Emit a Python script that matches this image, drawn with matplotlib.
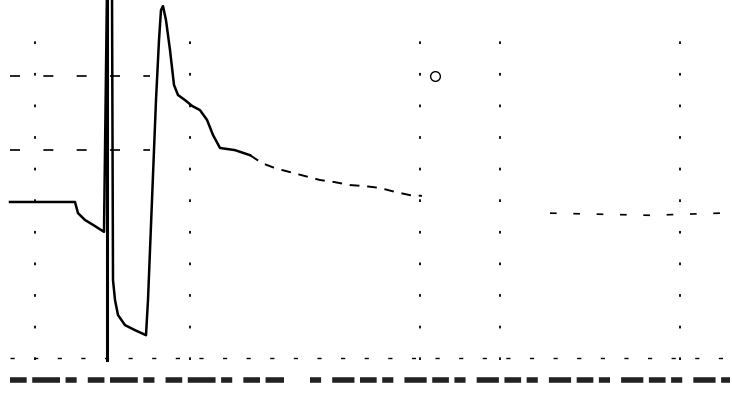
import matplotlib
matplotlib.use("Agg")
import matplotlib.pyplot as plt

# trace: time (arbitrary units) and detector signal (%)
time = [0.5, 3.75, 3.9, 4.25, 4.75, 5.2, 5.35, 5.6, 5.65, 5.75, 5.9, 6.25, 6.75,
        7.3, 7.4, 7.6, 7.8, 7.95, 8.05, 8.15, 8.3, 8.5, 8.7, 8.9, 9.25, 9.6, 10.0,
        10.35, 10.65, 11.0, 11.75, 12.5]
signal = [43.9, 43.9, 40.8, 38.9, 37.2, 35.6, 102.8, 102.8, 22.2, 16.7, 12.5, 9.7, 8.3,
          6.9, 16.7, 44.4, 72.2, 88.9, 97.2, 98.3, 94.4, 86.1, 76.4, 73.6, 72.2, 70.6, 69.4,
          66.7, 62.5, 58.9, 58.3, 56.9]

# broken (faint) tail of the trace
tail_time = [12.5, 13.1, 13.75, 14.5, 15.25, 16.0, 16.75, 17.5, 18.25, 19.0, 19.75, 20.5, 21.1]
tail_signal = [56.9, 54.7, 53.3, 52.2, 51.1, 50.0, 49.4, 48.6, 48.3, 47.8, 46.7, 45.8, 45.6]

late_time = [27.5, 30.0, 32.5, 36.0]
late_signal = [40.8, 40.5, 40.2, 40.8]

marker_time = 5.35          # injection marker
grid_times = [1.75, 9.5, 21.0, 25.0, 34.0]
grid_levels = [79.0, 58.3]

fig = plt.figure(figsize=(7.32, 4.0), dpi=100)
ax = fig.add_axes([0, 0, 1, 1])
ax.set_xlim(0, 36.6)
ax.set_ylim(-11.1, 100)
ax.axis("off")

# sparse dotted grid of the recorder paper
for t in grid_times:
    ax.plot([t, t], [0, 90], color="black", lw=1.3, ls=(0, (1.5, 16)))
for lv in grid_levels:
    ax.plot([0.5, 7.5], [lv, lv], color="black", lw=1.2, ls=(0, (6, 14)))

ax.plot(time, signal, color="black", lw=1.8)
ax.plot(tail_time, tail_signal, color="black", lw=1.4, ls=(0, (5, 4)))
ax.plot(late_time, late_signal, color="black", lw=1.2, ls=(0, (4, 10)))

ax.plot([marker_time, marker_time], [0, 100], color="black", lw=2.2)

ax.plot(21.75, 79.0, marker="o", mfc="none", mec="black", ms=7, mew=1.0)

# baseline and the smudged label strip under it
ax.plot([0.5, 36.5], [0.5, 0.5], color="black", lw=1.0, ls=(0, (3, 14)))
ax.plot([0.5, 14.2], [-5.5, -5.5], color="#222222", lw=4, ls=(0, (3, 1, 5, 1, 2, 2)))
ax.plot([15.5, 36.5], [-5.5, -5.5], color="#222222", lw=4, ls=(0, (2, 2, 4, 1, 3, 1)))

fig.savefig("out.png", dpi=100)
